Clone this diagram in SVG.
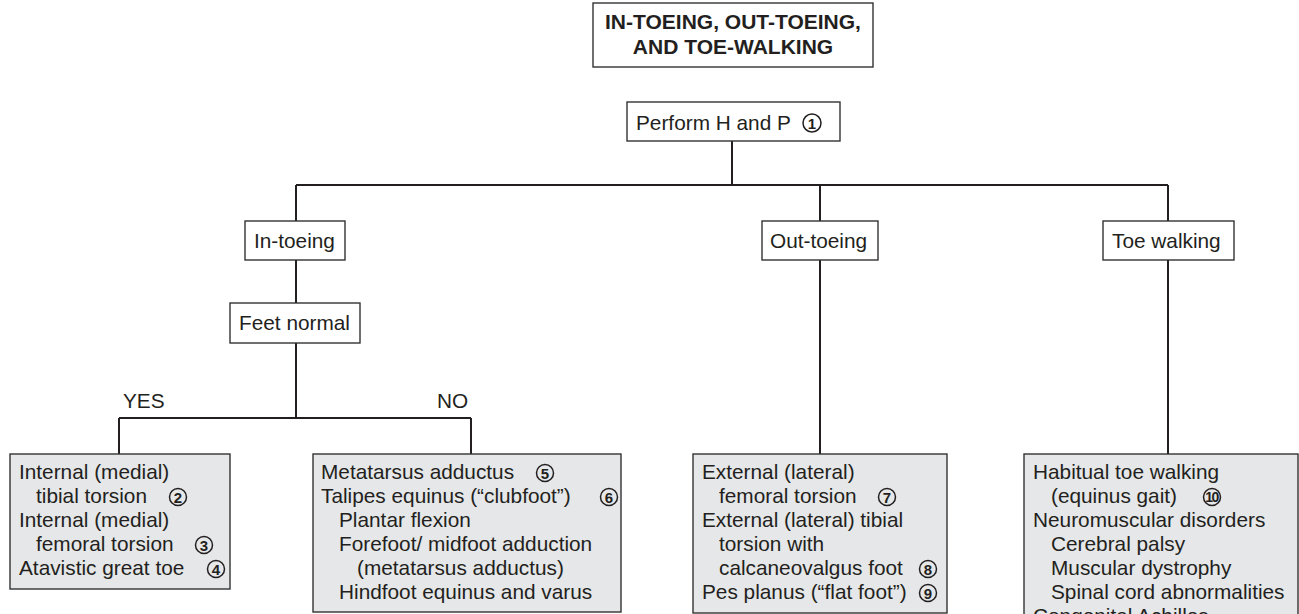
<svg xmlns="http://www.w3.org/2000/svg" width="1299" height="614" viewBox="0 0 1299 614">
<style>
.bx{fill:#ffffff;stroke:#333333;stroke-width:1.4}
.gb{fill:#e6e7e8;stroke:#333333;stroke-width:1.4}
.t{font-family:"Liberation Sans",Arial,sans-serif;font-size:20.8px;fill:#231f20}
.ti{font-family:"Liberation Sans",Arial,sans-serif;font-size:21px;font-weight:bold;fill:#231f20}
.c{fill:none;stroke:#231f20;stroke-width:1.5}
.n{font-family:"Liberation Sans",Arial,sans-serif;font-size:15px;font-weight:bold;fill:#231f20;text-anchor:middle}
.ln{fill:none;stroke:#231f20;stroke-width:2}
</style>
<rect width="1299" height="614" fill="#ffffff"/>
<g id="connectors">
<path class="ln" d="M732 141V185M296 185H1168M296 185V221M820 185V221M1168 185V221M296 260V303M296 343V418M119 418H471M119 418V454M471 418V454M820 260V454M1168 260V454"/>
<text class="t" x="123" y="408">YES</text>
<text class="t" x="437" y="408">NO</text>
</g>
<g id="title">
<rect class="bx" x="593" y="3" width="280" height="64"/>
<text class="ti" x="733" y="29" text-anchor="middle">IN-TOEING, OUT-TOEING,</text>
<text class="ti" x="733" y="54" text-anchor="middle">AND TOE-WALKING</text>
</g>
<g id="perform">
<rect class="bx" x="627" y="102" width="213" height="39"/>
<text class="t" x="636" y="130">Perform H and P</text>
<circle class="c" cx="812" cy="123" r="9"/><text class="n" x="812" y="128.5">1</text>
</g>
<g id="intoeing">
<rect class="bx" x="245" y="221" width="100" height="39"/>
<text class="t" x="254" y="248">In-toeing</text>
</g>
<g id="outtoeing">
<rect class="bx" x="762" y="221" width="116" height="39"/>
<text class="t" x="770" y="248">Out-toeing</text>
</g>
<g id="toewalking">
<rect class="bx" x="1103" y="221" width="131" height="39"/>
<text class="t" x="1112" y="248">Toe walking</text>
</g>
<g id="feetnormal">
<rect class="bx" x="230" y="303" width="130" height="40"/>
<text class="t" x="239" y="330">Feet normal</text>
</g>
<g id="yesbox">
<rect class="gb" x="10" y="454" width="220" height="135"/>
<text class="t" x="19" y="479">Internal (medial)</text>
<text class="t" x="36" y="503">tibial torsion</text>
<circle class="c" cx="178" cy="497" r="8.5"/><text class="n" x="178" y="502.5">2</text>
<text class="t" x="19" y="527">Internal (medial)</text>
<text class="t" x="36" y="551">femoral torsion</text>
<circle class="c" cx="204" cy="545" r="8.5"/><text class="n" x="204" y="550.5">3</text>
<text class="t" x="19" y="575">Atavistic great toe</text>
<circle class="c" cx="216" cy="569" r="8.5"/><text class="n" x="216" y="574.5">4</text>
</g>
<g id="nobox">
<rect class="gb" x="313" y="454" width="308" height="158"/>
<text class="t" x="321" y="479">Metatarsus adductus</text>
<circle class="c" cx="545" cy="473" r="8.5"/><text class="n" x="545" y="478.5">5</text>
<text class="t" x="321" y="503">Talipes equinus (“clubfoot”)</text>
<circle class="c" cx="609" cy="497" r="8.5"/><text class="n" x="609" y="502.5">6</text>
<text class="t" x="339" y="527">Plantar flexion</text>
<text class="t" x="339" y="551">Forefoot/ midfoot adduction</text>
<text class="t" x="357" y="575">(metatarsus adductus)</text>
<text class="t" x="339" y="599">Hindfoot equinus and varus</text>
</g>
<g id="outbox">
<rect class="gb" x="693" y="454" width="254" height="159"/>
<text class="t" x="702" y="479">External (lateral)</text>
<text class="t" x="719" y="503">femoral torsion</text>
<circle class="c" cx="887" cy="497" r="8.5"/><text class="n" x="887" y="502.5">7</text>
<text class="t" x="702" y="527">External (lateral) tibial</text>
<text class="t" x="719" y="551">torsion with</text>
<text class="t" x="719" y="575">calcaneovalgus foot</text>
<circle class="c" cx="928" cy="569" r="8.5"/><text class="n" x="928" y="574.5">8</text>
<text class="t" x="702" y="599">Pes planus (“flat foot”)</text>
<circle class="c" cx="928" cy="593" r="8.5"/><text class="n" x="928" y="598.5">9</text>
</g>
<g id="toebox">
<rect class="gb" x="1024" y="454" width="274" height="190"/>
<text class="t" x="1033" y="479">Habitual toe walking</text>
<text class="t" x="1051" y="503">(equinus gait)</text>
<circle class="c" cx="1212" cy="497" r="8.5"/><text class="n" x="1211.5" y="502" style="font-size:14px;letter-spacing:-1.5px">10</text>
<text class="t" x="1033" y="527">Neuromuscular disorders</text>
<text class="t" x="1051" y="551">Cerebral palsy</text>
<text class="t" x="1051" y="575">Muscular dystrophy</text>
<text class="t" x="1051" y="599">Spinal cord abnormalities</text>
<text class="t" x="1033" y="623">Congenital Achilles</text>
</g>
</svg>
